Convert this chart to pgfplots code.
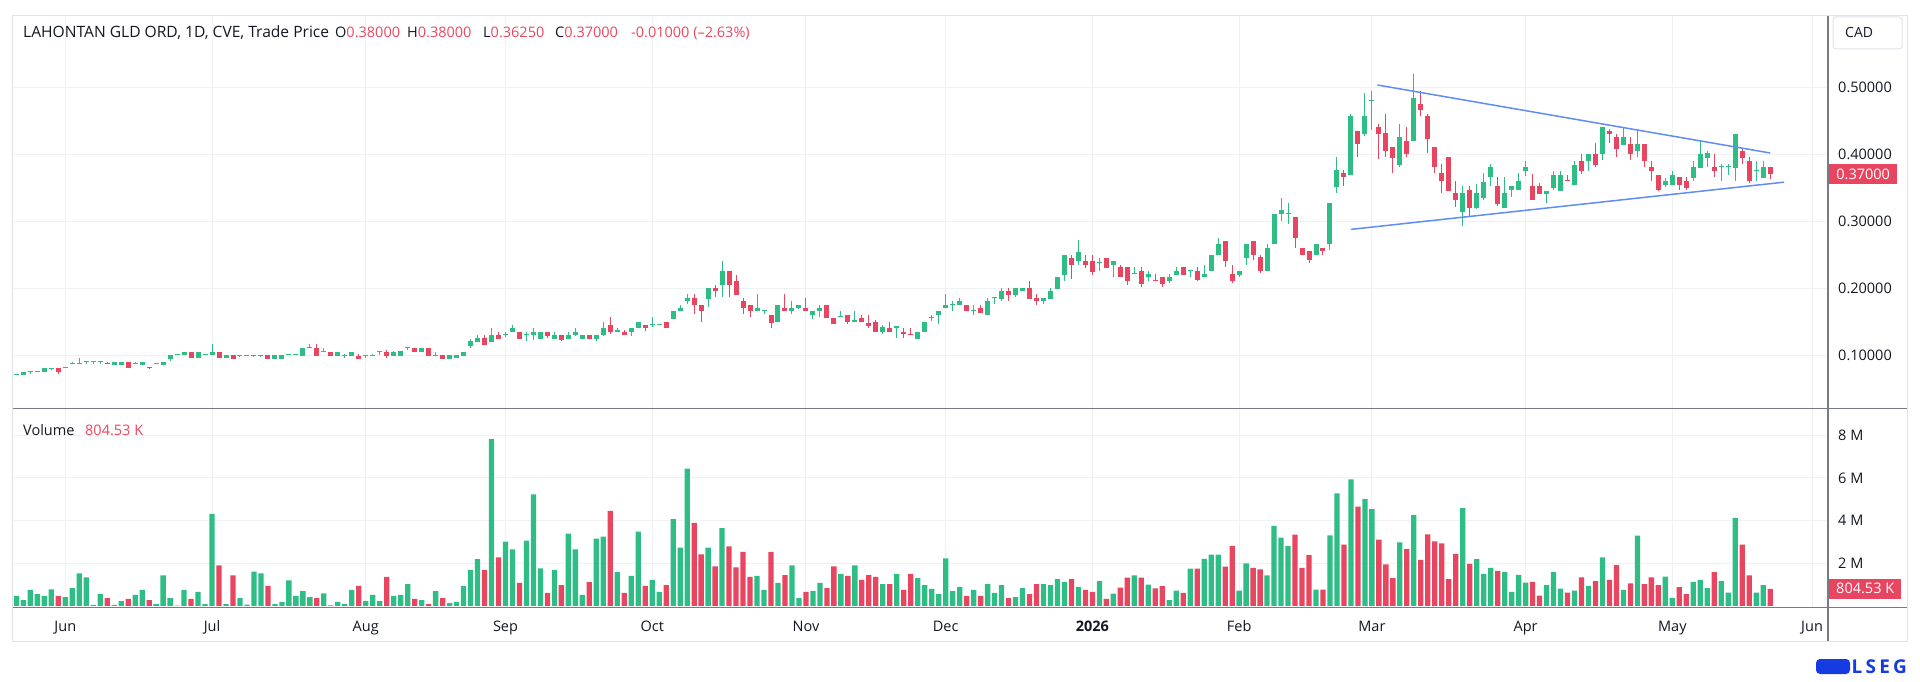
\documentclass[border=0pt]{standalone}
\usepackage{pgfplots}
\usepackage{pgfplotstable}
\pgfplotsset{compat=1.18}
\usepackage{fontspec}
\setmainfont{Open Sans}
\definecolor{cg}{RGB}{46,189,133}
\definecolor{cr}{RGB}{232,70,96}
\definecolor{txt}{RGB}{19,23,34}
\definecolor{gridc}{RGB}{240,241,243}
\definecolor{framec}{RGB}{224,227,235}
\definecolor{sepc}{RGB}{120,123,134}
\definecolor{trendc}{RGB}{95,140,246}
\definecolor{lsegc}{RGB}{20,60,225}
\newcommand{\fs}{\fontsize{14.5}{17}\selectfont}
% i o h l c v(M)
\pgfplotstableread{
i o h l c v
0 0.070 0.070 0.070 0.070 0.47
1 0.070 0.074 0.070 0.074 0.28
2 0.074 0.075 0.072 0.074 0.75
3 0.074 0.074 0.074 0.074 0.56
4 0.074 0.080 0.074 0.080 0.47
5 0.079 0.079 0.077 0.079 0.78
7 0.080 0.080 0.080 0.080 0.42
8 0.086 0.090 0.086 0.086 0.84
9 0.086 0.095 0.086 0.086 1.53
10 0.089 0.089 0.086 0.089 1.34
11 0.089 0.089 0.086 0.089 0.05
12 0.089 0.089 0.086 0.089 0.56
14 0.085 0.089 0.085 0.089 0.05
15 0.085 0.089 0.085 0.089 0.23
17 0.086 0.089 0.086 0.086 0.52
18 0.085 0.089 0.085 0.089 0.75
20 0.086 0.086 0.086 0.086 0.09
21 0.085 0.089 0.085 0.089 1.44
22 0.094 0.100 0.091 0.100 0.37
23 0.100 0.100 0.100 0.100 0.02
24 0.100 0.105 0.100 0.105 0.75
26 0.095 0.105 0.095 0.105 0.66
27 0.100 0.100 0.100 0.100 0.09
28 0.100 0.116 0.100 0.105 4.31
30 0.095 0.100 0.095 0.100 0.09
32 0.099 0.099 0.097 0.099 0.37
33 0.099 0.099 0.099 0.099 0.06
34 0.099 0.099 0.097 0.099 1.61
35 0.099 0.099 0.097 0.099 1.53
37 0.094 0.100 0.094 0.100 0.09
38 0.094 0.100 0.094 0.100 0.19
39 0.100 0.100 0.100 0.100 1.20
40 0.100 0.100 0.100 0.100 0.47
41 0.099 0.110 0.099 0.110 0.70
42 0.110 0.116 0.110 0.110 0.42
44 0.105 0.110 0.105 0.105 0.59
46 0.099 0.105 0.099 0.105 0.19
47 0.099 0.102 0.096 0.099 0.09
48 0.099 0.105 0.099 0.105 0.75
50 0.099 0.099 0.095 0.099 0.23
51 0.099 0.102 0.099 0.099 0.52
52 0.105 0.105 0.100 0.105 0.23
54 0.099 0.106 0.099 0.104 0.47
55 0.099 0.106 0.099 0.106 0.52
56 0.110 0.110 0.107 0.110 1.03
58 0.105 0.110 0.105 0.110 0.28
60 0.099 0.105 0.099 0.099 0.70
62 0.094 0.100 0.094 0.100 0.13
63 0.095 0.100 0.095 0.100 0.19
64 0.099 0.105 0.099 0.105 0.94
65 0.114 0.124 0.111 0.121 1.69
66 0.119 0.130 0.119 0.125 2.19
68 0.119 0.141 0.119 0.130 7.82
70 0.130 0.135 0.127 0.130 3.01
71 0.134 0.145 0.134 0.140 2.65
73 0.130 0.135 0.121 0.130 3.06
74 0.130 0.141 0.122 0.135 5.23
75 0.124 0.135 0.124 0.135 1.76
77 0.124 0.135 0.124 0.130 1.69
79 0.124 0.135 0.124 0.130 3.39
80 0.130 0.141 0.128 0.135 2.65
81 0.124 0.130 0.124 0.130 0.52
83 0.124 0.130 0.121 0.130 3.15
84 0.130 0.150 0.128 0.140 3.25
86 0.135 0.141 0.135 0.135 1.59
88 0.134 0.140 0.129 0.140 1.41
89 0.140 0.150 0.140 0.150 3.48
91 0.145 0.156 0.142 0.145 1.22
92 0.145 0.145 0.145 0.145 0.66
94 0.154 0.166 0.153 0.166 4.07
95 0.165 0.174 0.165 0.170 2.73
96 0.180 0.191 0.176 0.185 6.43
99 0.184 0.200 0.171 0.200 2.73
101 0.205 0.241 0.186 0.225 3.65
106 0.165 0.191 0.165 0.170 1.41
107 0.165 0.165 0.161 0.165 0.75
109 0.149 0.174 0.149 0.174 1.08
111 0.165 0.180 0.161 0.170 1.90
112 0.170 0.174 0.168 0.174 0.37
114 0.159 0.165 0.153 0.165 0.70
115 0.165 0.174 0.156 0.170 1.08
118 0.156 0.166 0.156 0.156 1.50
120 0.149 0.166 0.149 0.152 1.90
124 0.134 0.145 0.131 0.142 1.03
126 0.141 0.141 0.125 0.141 1.50
129 0.124 0.135 0.124 0.135 1.31
130 0.134 0.150 0.134 0.150 0.98
131 0.155 0.160 0.151 0.155 0.80
132 0.159 0.166 0.146 0.166 0.56
133 0.170 0.191 0.170 0.175 2.23
134 0.175 0.180 0.166 0.175 0.70
135 0.174 0.185 0.174 0.181 0.89
137 0.166 0.175 0.160 0.166 0.75
139 0.159 0.185 0.159 0.181 1.03
140 0.185 0.185 0.176 0.185 0.61
141 0.184 0.200 0.181 0.196 0.98
143 0.190 0.200 0.186 0.200 0.42
144 0.195 0.200 0.195 0.200 0.84
147 0.180 0.185 0.176 0.185 1.03
148 0.184 0.200 0.184 0.196 0.98
149 0.199 0.216 0.199 0.216 1.26
150 0.219 0.250 0.210 0.250 1.12
152 0.240 0.271 0.235 0.253 0.89
155 0.237 0.245 0.226 0.237 1.17
157 0.234 0.240 0.216 0.240 0.58
160 0.221 0.231 0.221 0.221 1.43
162 0.216 0.225 0.210 0.221 1.00
165 0.210 0.221 0.208 0.216 0.28
166 0.220 0.231 0.220 0.225 0.72
168 0.225 0.225 0.217 0.225 1.75
170 0.216 0.235 0.216 0.221 2.21
171 0.225 0.250 0.225 0.250 2.41
172 0.250 0.274 0.250 0.266 2.41
175 0.220 0.225 0.217 0.225 0.72
176 0.245 0.266 0.235 0.266 2.00
179 0.225 0.266 0.225 0.260 1.43
180 0.266 0.310 0.266 0.310 3.75
181 0.310 0.335 0.300 0.316 3.20
182 0.310 0.327 0.296 0.310 2.82
186 0.250 0.266 0.250 0.266 0.77
188 0.266 0.327 0.256 0.327 3.31
189 0.351 0.395 0.342 0.376 5.28
191 0.369 0.459 0.369 0.456 5.93
193 0.430 0.491 0.427 0.456 5.00
194 0.479 0.494 0.436 0.479 4.54
198 0.384 0.445 0.381 0.426 2.98
200 0.419 0.520 0.419 0.484 4.26
207 0.313 0.352 0.292 0.342 4.59
209 0.320 0.355 0.318 0.342 2.20
210 0.335 0.371 0.332 0.358 1.51
211 0.366 0.385 0.352 0.380 1.79
213 0.320 0.366 0.320 0.342 1.59
214 0.346 0.352 0.336 0.352 0.66
215 0.346 0.371 0.346 0.360 1.46
216 0.375 0.390 0.367 0.380 1.10
219 0.341 0.345 0.327 0.345 0.98
220 0.350 0.375 0.346 0.369 1.59
221 0.345 0.375 0.345 0.369 0.81
223 0.354 0.390 0.354 0.384 0.72
225 0.390 0.400 0.375 0.400 0.94
227 0.400 0.440 0.391 0.440 2.28
230 0.414 0.440 0.414 0.426 0.75
232 0.404 0.435 0.395 0.415 3.30
236 0.354 0.364 0.351 0.359 1.38
237 0.354 0.375 0.354 0.369 0.38
240 0.364 0.390 0.360 0.380 1.13
241 0.379 0.420 0.379 0.400 1.22
242 0.394 0.405 0.380 0.401 0.84
244 0.380 0.385 0.359 0.380 1.17
245 0.380 0.385 0.369 0.380 0.63
246 0.379 0.430 0.360 0.430 4.13
249 0.375 0.390 0.360 0.375 0.63
250 0.364 0.390 0.364 0.380 0.98
}\G
\pgfplotstableread{
i o h l c v
6 0.080 0.080 0.071 0.074 0.47
13 0.087 0.089 0.086 0.086 0.37
16 0.089 0.089 0.080 0.080 0.33
19 0.0805 0.0805 0.080 0.080 0.28
25 0.105 0.105 0.095 0.095 0.33
29 0.105 0.105 0.095 0.095 1.90
31 0.100 0.100 0.094 0.094 1.44
36 0.100 0.100 0.094 0.094 0.94
43 0.110 0.116 0.099 0.099 0.37
45 0.105 0.105 0.099 0.099 0.03
49 0.099 0.102 0.094 0.094 0.94
53 0.104 0.107 0.096 0.099 1.36
57 0.110 0.110 0.105 0.105 0.33
59 0.110 0.110 0.099 0.099 0.09
61 0.100 0.100 0.094 0.094 0.37
67 0.125 0.130 0.115 0.115 1.69
69 0.130 0.135 0.124 0.124 2.28
72 0.135 0.135 0.124 0.124 1.08
76 0.135 0.135 0.126 0.129 0.61
78 0.130 0.130 0.121 0.123 0.98
82 0.130 0.130 0.124 0.124 1.12
85 0.145 0.156 0.131 0.135 4.45
87 0.135 0.138 0.130 0.130 0.61
90 0.145 0.145 0.136 0.140 0.94
93 0.150 0.150 0.140 0.140 0.98
97 0.185 0.191 0.161 0.174 3.89
98 0.175 0.175 0.150 0.165 2.42
100 0.200 0.205 0.186 0.195 1.86
102 0.225 0.225 0.186 0.205 2.79
103 0.210 0.220 0.190 0.190 1.81
104 0.180 0.185 0.161 0.170 2.54
105 0.175 0.175 0.156 0.165 1.36
108 0.160 0.160 0.141 0.148 2.54
110 0.170 0.191 0.165 0.165 1.45
113 0.170 0.185 0.165 0.165 0.66
116 0.175 0.175 0.155 0.155 0.84
117 0.155 0.155 0.147 0.147 1.86
119 0.160 0.160 0.146 0.149 1.41
121 0.155 0.160 0.149 0.149 1.22
122 0.148 0.160 0.141 0.144 1.45
123 0.150 0.152 0.134 0.134 1.36
125 0.141 0.150 0.134 0.134 1.03
127 0.135 0.141 0.125 0.131 0.75
128 0.1305 0.141 0.130 0.130 1.50
136 0.175 0.175 0.165 0.165 0.47
138 0.170 0.175 0.162 0.162 0.47
142 0.196 0.200 0.181 0.190 0.37
145 0.200 0.210 0.184 0.184 0.56
146 0.185 0.191 0.175 0.180 1.03
151 0.245 0.250 0.213 0.234 1.26
153 0.240 0.250 0.230 0.234 0.75
154 0.240 0.250 0.220 0.224 0.66
156 0.245 0.245 0.230 0.230 0.33
158 0.231 0.235 0.216 0.216 0.86
159 0.231 0.231 0.204 0.210 1.33
161 0.225 0.231 0.201 0.206 1.33
163 0.211 0.221 0.210 0.210 0.82
164 0.216 0.216 0.201 0.206 0.93
167 0.231 0.231 0.220 0.220 0.61
169 0.225 0.231 0.211 0.212 1.75
173 0.270 0.270 0.232 0.241 1.84
174 0.221 0.235 0.207 0.210 2.82
177 0.270 0.270 0.242 0.250 1.79
178 0.246 0.249 0.222 0.225 1.72
183 0.306 0.306 0.260 0.274 3.34
184 0.260 0.260 0.250 0.250 1.79
185 0.255 0.255 0.237 0.242 2.38
187 0.260 0.260 0.250 0.255 0.77
190 0.371 0.376 0.353 0.366 2.87
192 0.435 0.435 0.396 0.415 4.66
195 0.441 0.445 0.392 0.430 3.11
196 0.431 0.459 0.396 0.405 1.95
197 0.410 0.410 0.371 0.394 1.31
199 0.420 0.441 0.396 0.400 2.66
201 0.475 0.494 0.456 0.465 2.16
202 0.456 0.459 0.402 0.422 3.36
203 0.410 0.410 0.371 0.380 3.03
204 0.371 0.385 0.342 0.359 2.93
205 0.395 0.395 0.345 0.345 1.26
206 0.342 0.360 0.321 0.331 2.44
208 0.346 0.353 0.307 0.320 1.97
212 0.352 0.366 0.322 0.326 1.64
217 0.352 0.370 0.331 0.331 1.13
218 0.352 0.356 0.340 0.340 0.49
222 0.360 0.369 0.359 0.359 0.63
224 0.390 0.400 0.370 0.374 1.34
226 0.400 0.416 0.380 0.383 1.17
228 0.435 0.437 0.416 0.430 1.22
229 0.426 0.430 0.395 0.408 1.91
231 0.415 0.426 0.391 0.400 1.06
233 0.415 0.415 0.380 0.389 1.03
234 0.380 0.390 0.360 0.374 1.34
235 0.369 0.369 0.345 0.347 0.98
238 0.365 0.365 0.346 0.354 0.88
239 0.359 0.365 0.347 0.350 0.56
243 0.380 0.400 0.365 0.374 1.59
247 0.405 0.408 0.385 0.394 2.88
248 0.390 0.395 0.356 0.359 1.44
251 0.380 0.380 0.3625 0.370 0.8045
}\R
\pgfplotsset{
  chartbase/.style={
    scale only axis, width=1815.3pt,
    xmin=-0.53, xmax=259.28,
    axis line style={draw=none}, major tick length=0pt,
    xtick={7,28,50,70,91,113,133,154,175,194,216,237,257},
    grid=major, major grid style={gridc, line width=1pt},
    yticklabel pos=right,
    yticklabel style={anchor=west, inner sep=0pt, xshift=10pt, font=\fs, text=txt},
  },
  wick/.style={draw=none, mark=none, forget plot, error bars/.cd, y dir=plus, y explicit, error mark=none, error bar style={draw=#1, line width=1pt}},
  body/.style={draw=none, mark=none, forget plot, error bars/.cd, y dir=plus, y explicit, error mark=none, error bar style={draw=#1, line width=5pt}},
}
\begin{document}
\begin{tikzpicture}[x=1pt,y=1pt]
\useasboundingbox (0,0) rectangle (1920,681);
% price panel
\begin{axis}[chartbase, at={(12.7pt,273pt)}, anchor=south west, height=392pt,
  ymin=0.0209, ymax=0.606,
  xticklabels={},
  ytick={0.1,0.2,0.3,0.4,0.5},
  yticklabels={0.10000,0.20000,0.30000,0.40000,0.50000}]
\addplot[wick=cg] table[x=i, y=l, y error expr=\thisrow{h}-\thisrow{l}] {\G};
\addplot[wick=cr] table[x=i, y=l, y error expr=\thisrow{h}-\thisrow{l}] {\R};
\addplot[body=cg] table[x=i, y=o, y error expr={max(\thisrow{c}-\thisrow{o},0.0016)}] {\G};
\addplot[body=cr] table[x=i, y=c, y error expr={max(\thisrow{o}-\thisrow{c},0.0016)}] {\R};
\addplot[trendc, line width=1.5pt] coordinates {(194.8,0.503) (251,0.4015)};
\addplot[trendc, line width=1.5pt] coordinates {(191,0.2875) (253,0.358)};
\end{axis}
% volume panel
\begin{axis}[chartbase, at={(12.7pt,74pt)}, anchor=south west, height=198pt,
  ymin=-0.047, ymax=9.227,
  xticklabels={Jun,Jul,Aug,Sep,Oct,Nov,Dec,\textbf{2026},Feb,Mar,Apr,May,Jun},
  xticklabel style={anchor=base, inner sep=0pt, yshift=-24pt, font=\fs, text=txt},
  ytick={2,4,6,8},
  yticklabels={2 M,4 M,6 M,8 M}]
\addplot[ybar, bar width=5.3pt, bar shift=0pt, fill=cg, draw=none] table[x=i, y=v] {\G};
\addplot[ybar, bar width=5.3pt, bar shift=0pt, fill=cr, draw=none] table[x=i, y=v] {\R};
\end{axis}
% frame and separators
\draw[framec, line width=1pt] (12.7,665) rectangle (1907,40);
\draw[sepc, line width=1.5pt] (12.7,272.5) -- (1907,272.5);
\draw[sepc, line width=1.5pt] (12.7,73.5) -- (1907,73.5);
\draw[sepc, line width=1.5pt] (1828,665) -- (1828,40);
% CAD box
\draw[framec, line width=1pt, rounded corners=3pt, fill=white] (1833,664) rectangle (1902,632);
\node[anchor=west, inner sep=0pt, font=\fontsize{14}{16}\selectfont, text=txt] at (1845,648) {CAD};
% last value boxes
\node[anchor=west, fill=cr, text=white, inner sep=0pt, minimum width=68pt, minimum height=20pt, font=\fs] at (1829,506.9) {0.37000};
\node[anchor=west, fill=cr, text=white, inner sep=0pt, minimum width=72pt, minimum height=20pt, font=\fs] at (1829,92.2) {804.53 K};
% header
\node[anchor=base west, inner sep=0pt, font=\fontsize{15.6}{18}\selectfont, text=txt] at (23,643) {LAHONTAN GLD ORD, 1D, CVE, Trade Price};
\node[anchor=base west, inner sep=0pt, font=\fs, text=txt] at (335,643) {O\textcolor{cr}{0.38000}};
\node[anchor=base west, inner sep=0pt, font=\fs, text=txt] at (407,643) {H\textcolor{cr}{0.38000}};
\node[anchor=base west, inner sep=0pt, font=\fs, text=txt] at (483,643) {L\textcolor{cr}{0.36250}};
\node[anchor=base west, inner sep=0pt, font=\fs, text=txt] at (555,643) {C\textcolor{cr}{0.37000}};
\node[anchor=base west, inner sep=0pt, font=\fs, text=cr] at (631,643) {-0.01000 (–2.63\%)};
% volume header
\node[anchor=base west, inner sep=0pt, font=\fs, text=txt] at (23,246) {Volume};
\node[anchor=base west, inner sep=0pt, font=\fs, text=cr] at (85,246) {804.53 K};
% LSEG logo
\fill[lsegc, rounded corners=4pt] (1816,7) rectangle (1850,22);
\node[anchor=east, inner sep=0pt, font=\fontsize{19}{22}\selectfont\bfseries, text=lsegc] at (1907,14) {L\,S\,E\,G};
\end{tikzpicture}
\end{document}
